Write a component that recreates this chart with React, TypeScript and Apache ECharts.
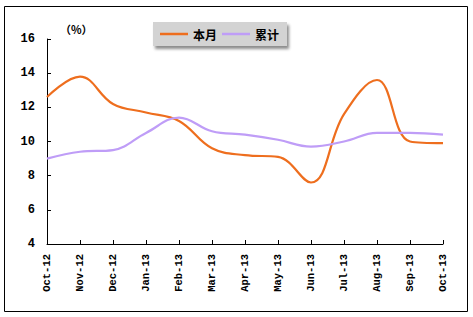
import React, { useEffect, useRef } from "react";
import * as echarts from "echarts";

const categories = ["Oct-12", "Nov-12", "Dec-12", "Jan-13", "Feb-13", "Mar-13", "Apr-13", "May-13", "Jun-13", "Jul-13", "Aug-13", "Sep-13", "Oct-13"];
const monthly = [12.6, 13.8, 12.2, 11.7, 11.2, 9.6, 9.2, 9.1, 7.6, 11.6, 13.6, 10.0, 9.9];
const cumulative = [9.0, 9.4, 9.5, 10.5, 11.4, 10.6, 10.4, 10.1, 9.7, 10.0, 10.5, 10.5, 10.4];
const seriesNames = ["本月", "累计"];
const unitLabel = "（%）";

export default function App() {
  const ref = useRef<HTMLDivElement>(null);
  useEffect(() => {
    document.body.style.margin = "0";
    const chart = echarts.init(ref.current!, null, { renderer: "svg" });
    const mono = "'Liberation Mono', 'DejaVu Sans Mono', monospace";
    chart.setOption({
      animation: false,
      backgroundColor: "#ffffff",
      grid: { left: 47, top: 39, right: 30, bottom: 73, containLabel: false },
      legend: {
        left: 153,
        top: 22,
        padding: [6, 8, 6, 7],
        backgroundColor: "#d3d3d3",
        shadowColor: "rgba(0,0,0,0.45)",
        shadowBlur: 3,
        shadowOffsetX: 2,
        shadowOffsetY: 3,
        icon: "rect",
        itemWidth: 28,
        itemHeight: 2.5,
        itemGap: 5,
        textStyle: {
          fontFamily: "'Noto Sans CJK SC'",
          fontWeight: "bold",
          fontSize: 12,
          color: "#000",
        },
        data: seriesNames,
      },
      xAxis: {
        type: "category",
        data: categories,
        boundaryGap: false,
        axisLine: { lineStyle: { color: "#000", width: 1 } },
        axisTick: { inside: true, length: 4, alignWithLabel: true, interval: 0, lineStyle: { color: "#000" } },
        axisLabel: {
          interval: 0,
          rotate: 90,
          margin: 10,
          fontFamily: mono,
          fontWeight: "bold",
          fontSize: 10.5,
          color: "#000",
        },
        splitLine: { show: false },
      },
      yAxis: {
        type: "value",
        min: 4,
        max: 16,
        interval: 2,
        axisLine: { show: true, lineStyle: { color: "#000", width: 1 } },
        axisTick: { show: true, inside: true, length: 4, lineStyle: { color: "#000" } },
        axisLabel: {
          margin: 12,
          fontFamily: mono,
          fontWeight: "bold",
          fontSize: 12,
          color: "#000",
        },
        splitLine: { show: false },
      },
      graphic: [
        {
          type: "rect",
          shape: { x: 4.5, y: 6.5, width: 463, height: 305 },
          style: { fill: "none", stroke: "#000", lineWidth: 1 },
          silent: true,
        },
        {
          type: "text",
          x: 60,
          y: 23,
          style: {
            text: unitLabel,
            fontFamily: "'Noto Sans CJK SC'",
            fontWeight: "bold",
            fontSize: 11,
            fill: "#000",
          },
        },
      ],
      series: [
        {
          name: seriesNames[0],
          type: "line",
          data: monthly,
          smooth: 0.4,
          symbol: "none",
          lineStyle: { color: "#EE6E1E", width: 2.2 },
          itemStyle: { color: "#EE6E1E" },
        },
        {
          name: seriesNames[1],
          type: "line",
          data: cumulative,
          smooth: 0.4,
          symbol: "none",
          lineStyle: { color: "#BF9DF7", width: 2.2 },
          itemStyle: { color: "#BF9DF7" },
        },
      ],
    });
    return () => chart.dispose();
  }, []);
  return <div ref={ref} style={{ position: "absolute", left: 0, top: 0, width: 473, height: 317 }} />;
}
